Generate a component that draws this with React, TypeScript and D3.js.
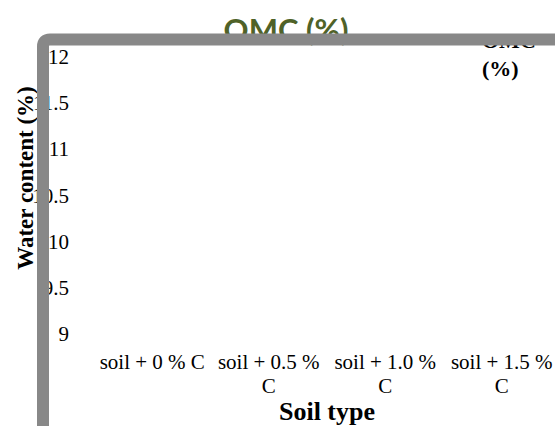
import React, { useMemo } from "react";
import * as d3 from "d3";

const categories = ["soil + 0 % C", "soil + 0.5 % C", "soil + 1.0 % C", "soil + 1.5 % C"];
const yTicks = [9, 9.5, 10, 10.5, 11, 11.5, 12];
const seriesName = "OMC (%)";
// No bars are visible in the reference picture
const omcValues: number[] = [];

const W = 555;
const H = 426;
const serif = "'Liberation Serif', 'Times New Roman', serif";

function wrapLabel(text: string, maxWidth: number, font: string): string[] {
  const canvas = document.createElement("canvas");
  const ctx = canvas.getContext("2d")!;
  ctx.font = font;
  const words = text.split(" ");
  const lines: string[] = [];
  let cur = "";
  for (const w of words) {
    const test = cur ? cur + " " + w : w;
    if (ctx.measureText(test).width > maxWidth && cur) {
      lines.push(cur);
      cur = w;
    } else cur = test;
  }
  if (cur) lines.push(cur);
  return lines;
}

export default function App() {
  const x = d3.scaleBand<string>().domain(categories).range([94, 560]).padding(0);
  const y = d3.scaleLinear().domain([9, 12]).range([334, 57]);

  const wrapped = useMemo(
    () => categories.map((c) => wrapLabel(c, x.bandwidth() - 4, `21px ${serif}`)),
    []
  );

  const borderPath = d3.path();
  const bx = 43, by = 39.5, r = 7;
  borderPath.moveTo(bx, H + 20);
  borderPath.lineTo(bx, by + r);
  borderPath.quadraticCurveTo(bx, by, bx + r, by);
  borderPath.lineTo(W + 20, by);

  return (
    <svg width={W} height={H} style={{ position: "absolute", left: 0, top: 0, background: "#fff" }}>
      {/* title */}
      <text x={286} y={41} textAnchor="middle" fontFamily="Lato, 'Open Sans', sans-serif" fontWeight="bold" fontSize={31} fill="#4F6228">
        {seriesName}
      </text>
      {/* bars (none visible) */}
      {omcValues.map((v, i) => (
        <rect key={i} x={x(categories[i])! + x.bandwidth() * 0.3} width={x.bandwidth() * 0.4} y={y(v)} height={y(9) - y(v)} fill="#4F6228" />
      ))}
      {/* y tick labels */}
      {yTicks.map((t) => (
        <text key={t} x={69} y={y(t) + 7} textAnchor="end" fontFamily={serif} fontSize={21} fill="#000">
          {d3.format("")(t)}
        </text>
      ))}
      {/* x tick labels */}
      {categories.map((c, i) => (
        <text key={c} textAnchor="middle" fontFamily={serif} fontSize={21} fill="#000">
          {wrapped[i].map((line, j) => (
            <tspan key={j} x={x(c)! + x.bandwidth() / 2} y={369 + j * 24}>
              {line}
            </tspan>
          ))}
        </text>
      ))}
      {/* axis titles */}
      <text x={327} y={420} textAnchor="middle" fontFamily={serif} fontWeight="bold" fontSize={26} fill="#000">
        Soil type
      </text>
      <text transform="translate(33,178) rotate(-90)" textAnchor="middle" fontFamily={serif} fontWeight="bold" fontSize={23} fill="#000">
        Water content (%)
      </text>
      {/* legend */}
      <text fontFamily={serif} fontWeight="bold" fontSize={22} fill="#000">
        <tspan x={482} y={48}>OMC</tspan>
        <tspan x={482} y={76}>(%)</tspan>
      </text>
      {/* frame border */}
      <path d={borderPath.toString()} fill="none" stroke="#888888" strokeWidth={12} />
    </svg>
  );
}
